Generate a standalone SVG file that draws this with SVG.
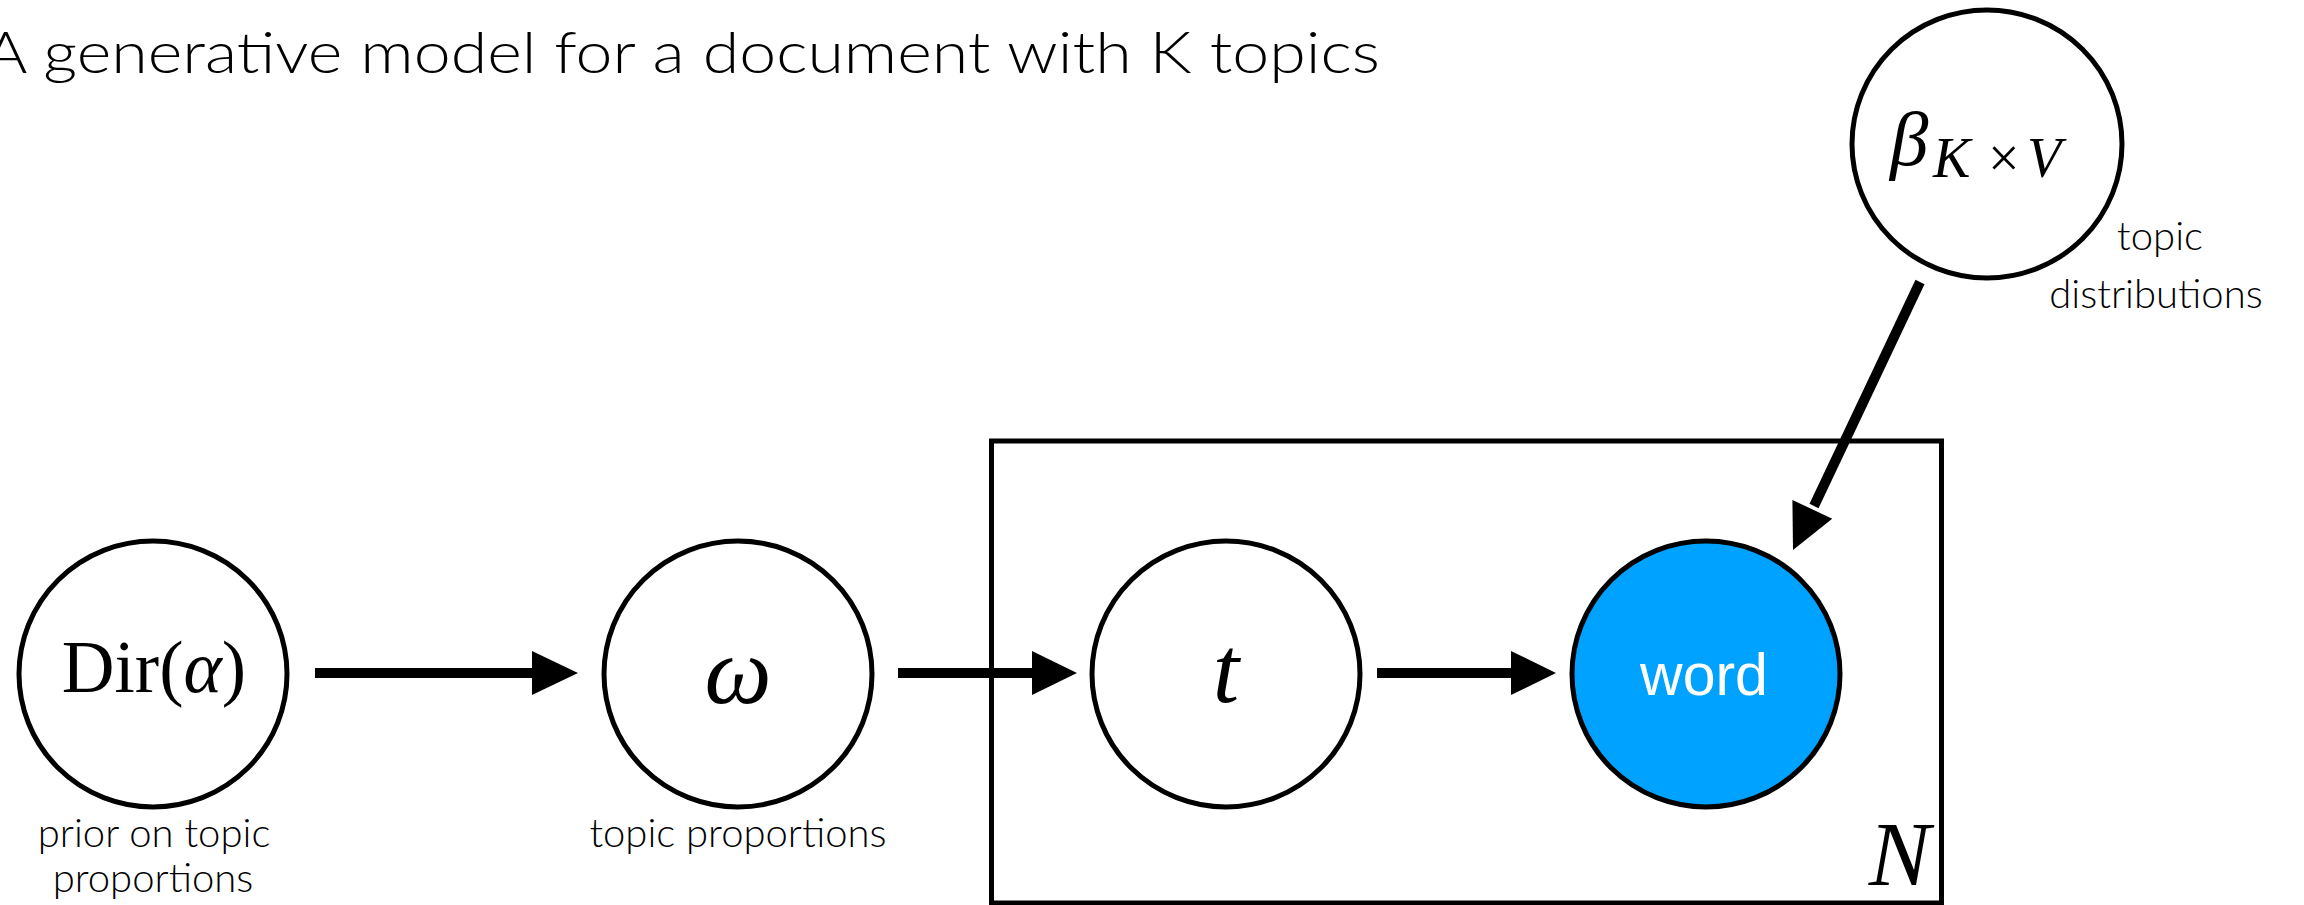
<svg xmlns="http://www.w3.org/2000/svg" width="2304" height="905" viewBox="0 0 2304 905">
<style>
  .node { fill: #ffffff; stroke: #000000; stroke-width: 5; }
  .obs { fill: #00A2FF; stroke: #000000; stroke-width: 5; }
  .plate { fill: none; stroke: #000000; stroke-width: 5; }
  .edge { stroke: #000000; stroke-width: 10; fill: none; }
  .head { fill: #000000; stroke: none; }
  .lbl { font-family: Lato, "Open Sans", sans-serif; font-weight: 300; fill: #000000; }
  .math { font-family: "Liberation Serif", "DejaVu Serif", serif; fill: #000000; }
  .it { font-style: italic; }
</style>
<rect width="2304" height="905" fill="#ffffff"/>

<text id="title" class="lbl" x="-16" y="73" font-size="58" textLength="1396" lengthAdjust="spacingAndGlyphs">A generative model for a document with K topics</text>

<g id="plate">
  <rect class="plate" x="991.5" y="441" width="950" height="462"/>
  <text class="math it" x="1930" y="885" font-size="92" text-anchor="end">N</text>
</g>

<g id="connectors">
  <line class="edge" x1="315" y1="673" x2="536" y2="673"/>
  <polygon class="head" points="578,673 532,651 532,695"/>
  <line class="edge" x1="898" y1="673" x2="1036" y2="673"/>
  <polygon class="head" points="1077,673 1032,651 1032,695"/>
  <line class="edge" x1="1377" y1="673" x2="1515" y2="673"/>
  <polygon class="head" points="1556,673 1511,651 1511,695"/>
  <line class="edge" x1="1920" y1="282" x2="1814" y2="506"/>
  <polygon class="head" points="1793,550 1832.2,518.7 1792.4,499.9"/>
</g>

<g id="node-dir">
  <ellipse class="node" cx="153" cy="674" rx="134" ry="133"/>
  <text class="math" x="154" y="692" font-size="73" text-anchor="middle">Dir(<tspan class="it">α</tspan>)</text>
  <text class="lbl" x="154" y="847" font-size="40" text-anchor="middle">prior on topic</text>
  <text class="lbl" x="153" y="892" font-size="40" text-anchor="middle">proportions</text>
</g>

<g id="node-omega">
  <ellipse class="node" cx="738" cy="674" rx="134" ry="133"/>
  <text class="math it" x="738" y="703" font-size="95" text-anchor="middle">ω</text>
  <text class="lbl" x="738" y="847" font-size="40" text-anchor="middle">topic proportions</text>
</g>

<g id="node-t">
  <ellipse class="node" cx="1226" cy="674" rx="134" ry="133"/>
  <text class="math it" x="1226" y="702" font-size="95" text-anchor="middle">t</text>
</g>

<g id="node-word">
  <ellipse class="obs" cx="1706" cy="674" rx="134" ry="133"/>
  <text x="1704" y="695" font-family="'Liberation Sans', Arial, sans-serif" font-size="59" fill="#ffffff" text-anchor="middle">word</text>
</g>

<g id="node-beta">
  <ellipse class="node" cx="1987" cy="144" rx="135" ry="134"/>
  <text class="math it" font-size="77" x="1890" y="165">β</text>
  <text class="math" font-size="56" y="177"><tspan class="it" x="1933">K</tspan><tspan x="1988">×</tspan><tspan class="it" x="2027">V</tspan></text>
  <text class="lbl" x="2160" y="250" font-size="40" text-anchor="middle">topic</text>
  <text class="lbl" x="2156" y="308" font-size="40" text-anchor="middle">distributions</text>
</g>
</svg>
